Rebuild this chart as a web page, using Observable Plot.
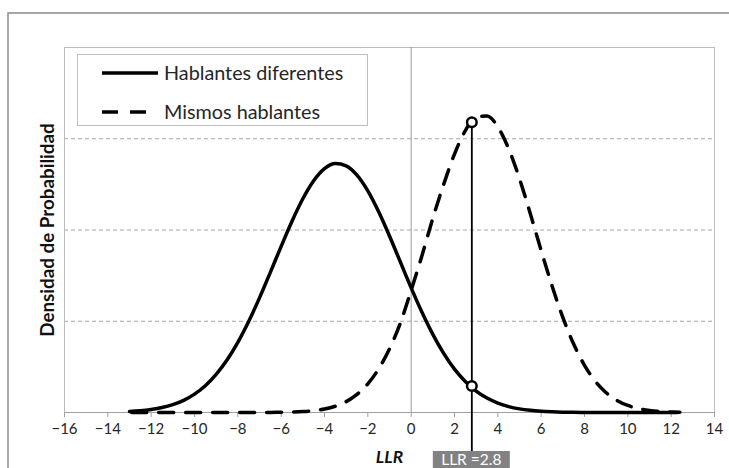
<!DOCTYPE html>
<html>
<head>
<meta charset="utf-8">
<script src="https://cdn.jsdelivr.net/npm/d3@7"></script>
<script src="https://cdn.jsdelivr.net/npm/@observablehq/plot@0.6"></script>
<style>
  html, body { margin: 0; padding: 0; background: #fff; }
  #chart svg { display: block; }
</style>
</head>
<body>
<div id="chart"></div>
<script>
// ---- Data ----
const seriesNames = ["Hablantes diferentes", "Mismos hablantes"];

// Solid curve: "Hablantes diferentes"
const solidX = [-13,-12.5,-12,-11.5,-11,-10.5,-10,-9.5,-9,-8.5,-8,-7.5,-7,-6.5,-6,-5.5,-5,-4.5,-4,-3.5,-3,-2.5,-2,-1.5,-1,-0.5,0,0.5,1,1.5,2,2.5,3,3.5,4,4.5,5,5.5,6,6.5,7,7.5,8,9,10,11,12.3];
const solidY = [0.011,0.019,0.033,0.054,0.086,0.133,0.201,0.294,0.418,0.575,0.769,0.998,1.256,1.536,1.821,2.096,2.342,2.539,2.672,2.728,2.704,2.601,2.428,2.199,1.934,1.650,1.366,1.098,0.856,0.648,0.476,0.340,0.235,0.158,0.103,0.065,0.040,0.024,0.014,0.008,0.004,0.002,0.001,0,0,0,0];

// Dashed curve: "Mismos hablantes"
const dashedX = [-12.9,-12,-11,-10,-9,-8,-7,-6.5,-6,-5.5,-5,-4.5,-4,-3.5,-3,-2.5,-2,-1.5,-1,-0.5,0,0.5,1,1.5,2,2.5,3,3.5,4,4.5,5,5.5,6,6.5,7,7.5,8,8.5,9,9.5,10,10.5,11,11.5,12,12.4];
const dashedY = [0,0,0,0,0,0,0.0005,0.001,0.002,0.005,0.010,0.020,0.038,0.069,0.119,0.198,0.314,0.478,0.698,0.979,1.34,1.72,2.13,2.50,2.832,3.090,3.236,3.249,3.130,2.891,2.562,2.178,1.776,1.389,1.042,0.750,0.517,0.343,0.217,0.132,0.077,0.043,0.023,0.012,0.006,0.003];

// Marker at LLR = 2.8
const markerX = 2.8;
const markerY = [0.29, 3.18];   // solid, dashed values at the marker
const markerLabel = "LLR =2.8";

const xTicks = [-16,-14,-12,-10,-8,-6,-4,-2,0,2,4,6,8,10,12,14];
const gridY = [1, 2, 3];
const xTitle = "LLR";
const yTitle = "Densidad de Probabilidad";

// ---- Build tables ----
const solid = solidX.map((x, i) => ({x, y: solidY[i]}));
const dashed = dashedX.map((x, i) => ({x, y: dashedY[i]}));
const markerPts = markerY.map(y => ({x: markerX, y}));

const FONT = "Lato, 'Open Sans', sans-serif";

function outerBorder() {
  return d3.create("svg:rect")
    .attr("x", 8).attr("y", 13).attr("width", 900).attr("height", 700)
    .attr("fill", "none").attr("stroke", "#8a8a8a").attr("stroke-width", 1.5).node();
}

function legend() {
  const g = d3.create("svg:g").attr("font-family", FONT);
  g.append("rect").attr("x", 77.5).attr("y", 54.5).attr("width", 290).attr("height", 71)
    .attr("fill", "white").attr("stroke", "#bfbfbf");
  const rows = [
    {y: 73, dash: null},
    {y: 112, dash: "16,12"}
  ];
  rows.forEach((r, i) => {
    g.append("line").attr("x1", 102).attr("x2", 158).attr("y1", r.y).attr("y2", r.y)
      .attr("stroke", "black").attr("stroke-width", 3.5)
      .attr("stroke-dasharray", r.dash);
    g.append("text").attr("x", 164).attr("y", r.y).attr("dy", "0.35em")
      .attr("text-anchor", "start")
      .attr("font-size", 19.8).attr("fill", "#262626").text(seriesNames[i]);
  });
  return g.node();
}

function labelBox(index, scales) {
  const cx = scales.x(markerX);
  const g = d3.create("svg:g").attr("font-family", FONT);
  g.append("rect").attr("x", cx - 38.5).attr("y", 451).attr("width", 77).attr("height", 30)
    .attr("fill", "#828282");
  g.append("text").attr("x", cx).attr("y", 465).attr("text-anchor", "middle")
    .attr("font-size", 15.5).attr("fill", "white").text(markerLabel);
  return g.node();
}

const chart = Plot.plot({
  width: 729,
  height: 468,
  marginLeft: 64,
  marginRight: 15,
  marginTop: 47,
  marginBottom: 56,
  style: {fontFamily: FONT, background: "white"},
  x: {domain: [-16, 14]},
  y: {domain: [0, 4], axis: null},
  marks: [
    outerBorder,
    Plot.ruleY(gridY, {stroke: "#a6a6a6", strokeDasharray: "4,3", strokeWidth: 1}),
    Plot.frame({stroke: "#bdbdbd", strokeWidth: 1}),
    Plot.ruleY([0], {stroke: "#a0a0a0", strokeWidth: 1}),
    Plot.ruleX([0], {stroke: "#9a9a9a", strokeWidth: 1}),
    Plot.axisX(xTicks, {tickSize: 5, tickPadding: 6, fontSize: 15, stroke: "#a0a0a0", fill: "#262626", label: null}),
    Plot.line(solid, {x: "x", y: "y", stroke: "black", strokeWidth: 3.5, curve: "monotone-x"}),
    Plot.line(dashed, {x: "x", y: "y", stroke: "black", strokeWidth: 3.5, strokeDasharray: "15,12", curve: "monotone-x"}),
    Plot.ruleX([{x: markerX, y1: markerY[1], y2: 0}], {x: "x", y1: "y1", y2: "y2", stroke: "black", strokeWidth: 1.8, insetBottom: -39}),
    Plot.dot(markerPts, {x: "x", y: "y", r: 4.8, stroke: "black", strokeWidth: 2.5, fill: "white"}),
    Plot.text([yTitle], {frameAnchor: "left", textAnchor: "middle", rotate: -90, dx: -17, fontSize: 18.8, fontWeight: "bold", fill: "#111"}),
    Plot.text([xTitle], {frameAnchor: "bottom", dy: 50, fontSize: 17.5, fontWeight: "bold", fontStyle: "italic", fill: "#111"}),
    legend,
    labelBox
  ]
});
document.getElementById("chart").appendChild(chart);
</script>
</body>
</html>
